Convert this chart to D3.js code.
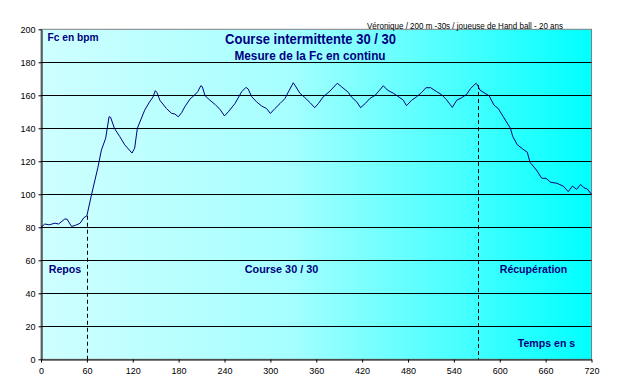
<!DOCTYPE html>
<html><head><meta charset="utf-8">
<script src="https://cdn.jsdelivr.net/npm/d3@7"></script>
<style>body{margin:0;background:#fff}svg{display:block}text{font-family:"Liberation Sans",Arial,sans-serif}</style>
</head><body>
<script>
const times = [0,5,11,18,23,31,34,40,45,51,56,60,66,74.5,79,84.6,89,91,96,103,109.5,119,122.5,126,135.6,142,146.5,149.5,151.7,155.5,164,171,175,179.6,184,188,195,201,205,209,211,214.5,221,227.6,234,240,245,253.7,262.5,268,271,275.5,282,288.6,295,300,306,312.6,319,323.5,330,332,338.7,345,352,358,362.7,369,378,387.5,393,402,406,413,418,424,430,437,443,447.7,453,461,469.5,474,478,484.8,491,498,503.5,509.7,517.5,524,530,535,538,543.7,550,556.7,562,569,571,574,580.7,586,592.5,598,604.6,614,617,623,630,636,639.6,648,655,660.5,666.6,674.5,683,689.6,695,700.6,705.8,710,714.5,720];
const heartRate = [80,82,81.5,82.5,82,85,85,80.5,81.2,82.4,85.8,87,99.6,116.4,126.8,134,147,146.7,140,135,130,125,128,140,151,156,159,162.8,161.6,157,152,149,148.7,147,149.5,153,157.8,160.2,162.2,165.8,165.2,159.8,157,154.5,151.5,147.5,150,155,162.2,164.8,163.8,159.2,156,153.5,152,149,152,155,158,162,167.6,166.2,161.2,158.7,155.5,152.5,155,159,162.6,167.3,165.2,161.8,159,156,152.5,155,158,160,163.2,165.8,163.2,161.2,158.5,157,153.7,157,159,161.8,164.6,164.6,162.2,160.4,157.5,154.5,152.7,157,158.5,160.6,164.2,167.3,166.2,163.2,161.2,159.8,154,152,147,140,135,130,127.5,125.5,119.4,114.7,109.7,109.7,107.3,106.7,105,101.6,105,103,106,104,103.2,100];
const xTicks = [0,60,120,180,240,300,360,420,480,540,600,660,720];
const yTicks = [0,20,40,60,80,100,120,140,160,180,200];
const phaseBounds = [60,571];
const phaseLabels = [{t:"Repos",x0:0,x1:60},{t:"Course 30 / 30",x0:60,x1:571},{t:"Récupération",x0:571,x1:720}];
const titleText = "Course intermittente 30 / 30";
const subTitleText = "Mesure de la Fc en continu";
const yLabelText = "Fc en bpm";
const xLabelText = "Temps en s";
const noteText = "Véronique / 200 m -30s / joueuse de Hand ball - 20 ans";

const W=620,H=390;
const svg=d3.select("body").append("svg").attr("width",W).attr("height",H);
const x=d3.scaleLinear().domain([0,720]).range([41,591.5]);
const y=d3.scaleLinear().domain([0,200]).range([359.3,29.3]);

const defs=svg.append("defs");
const g=defs.append("linearGradient").attr("id","bg").attr("x1","0").attr("x2","1").attr("y1","0").attr("y2","0");
g.append("stop").attr("offset","0%").attr("stop-color","#cfffff");
g.append("stop").attr("offset","45%").attr("stop-color","#a6ffff");
g.append("stop").attr("offset","100%").attr("stop-color","#00ffff");

svg.append("rect").attr("x",x(0)).attr("y",y(200)).attr("width",x(720)-x(0)).attr("height",y(0)-y(200)).attr("fill","url(#bg)").attr("stroke","#808080").attr("stroke-width",1);

// gridlines
svg.append("g").selectAll("line").data(yTicks.filter(d=>d>0&&d<200)).join("line")
  .attr("x1",x(0)).attr("x2",x(720)).attr("y1",d=>Math.round(y(d))+0.5).attr("y2",d=>Math.round(y(d))+0.5)
  .attr("stroke","#000").attr("stroke-width",1);

// axes
const xa=svg.append("g").attr("transform",`translate(0,${Math.round(y(0))+0.5})`)
  .call(d3.axisBottom(x).tickValues(xTicks).tickSize(3).tickSizeOuter(0).tickPadding(5).tickFormat(d3.format("d")));
const ya=svg.append("g").attr("transform",`translate(${Math.round(x(0))+0.5},0)`)
  .call(d3.axisLeft(y).tickValues(yTicks).tickSize(3).tickSizeOuter(0).tickPadding(3).tickFormat(d3.format("d")));
[xa,ya].forEach(a=>{a.selectAll("text").attr("font-size","9px").attr("fill","#000").style("font-family","'Liberation Sans',Arial,sans-serif");
  a.selectAll("line,path").attr("stroke","#000");});
ya.select(".domain").attr("stroke","#000");

// dashed phase boundaries
const interp=t=>{const i=d3.bisectLeft(times,t);if(times[i]===t)return heartRate[i];const a=i-1;return heartRate[a]+(heartRate[i]-heartRate[a])*(t-times[a])/(times[i]-times[a]);};
svg.append("g").selectAll("line").data(phaseBounds).join("line")
  .attr("x1",d=>Math.round(x(d))+0.5).attr("x2",d=>Math.round(x(d))+0.5)
  .attr("y1",d=>y(interp(d))).attr("y2",y(0))
  .attr("stroke","#000").attr("stroke-width",1).attr("stroke-dasharray","4,3");

// line
svg.append("path").datum(times.map((t,i)=>[t,heartRate[i]]))
  .attr("d",d3.line().x(d=>x(d[0])).y(d=>y(d[1])))
  .attr("fill","none").attr("stroke","#000080").attr("stroke-width",1);

const navy="#000080";
function txt(s,cx,by,size,len,opts={}){
  const t=svg.append("text").text(s).attr("x",cx).attr("y",by).attr("font-size",size+"px")
    .attr("font-weight",opts.weight||"bold").attr("fill",opts.fill||navy).attr("text-anchor","middle");
  if(len) t.attr("textLength",len).attr("lengthAdjust","spacingAndGlyphs");
  return t;
}
txt(titleText,310.5,44,14.5,171);
txt(subTitleText,310,59.5,12.5,151);
txt(yLabelText,73,40.5,10.5,51);
txt(noteText,465,28.5,9,196,{weight:"normal",fill:"#000"});
const labX=[65,281.5,533.5];
phaseLabels.forEach((p,i)=>txt(p.t,labX[i],272.5,10.5,[32.5,73.5,67.5][i]));
txt(xLabelText,546.5,346.5,10.5,57.5);
</script>
</body></html>
